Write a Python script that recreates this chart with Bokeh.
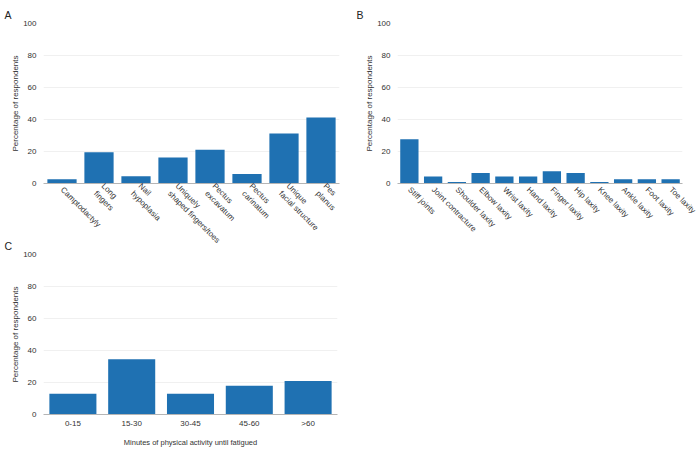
import math
from bokeh.plotting import figure
from bokeh.layouts import column, row
from bokeh.models import Range1d, FixedTicker
from bokeh.embed import file_html
from bokeh.resources import INLINE

# Panel A
cats_a = ["Camptodactyly", "Long\nfingers", "Nail\nhypoplasia", "Uniquely\nshaped fingers/toes",
          "Pectus\nexcavatum", "Pectus\ncarinatum", "Unique\nfacial structure", "Pes\nplanus"]
vals_a = [2.7, 19.5, 4.5, 16.2, 21.1, 6.0, 31.2, 41.2]

# Panel B
cats_b = ["Stiff joints", "Joint contracture", "Shoulder laxity", "Elbow laxity", "Wrist laxity",
          "Hand laxity", "Finger laxity", "Hip laxity", "Knee laxity", "Ankle laxity",
          "Foot laxity", "Toe laxity"]
vals_b = [27.6, 4.3, 1.0, 6.5, 4.3, 4.3, 7.6, 6.5, 1.0, 2.7, 2.7, 2.7]

# Panel C
cats_c = ["0-15", "15-30", "30-45", "45-60", ">60"]
vals_c = [12.9, 34.6, 12.9, 17.9, 21.0]

y_ticks = [0, 20, 40, 60, 80, 100]
grid_ticks = [20, 40, 60, 80]
y_label = "Percentage of respondents"
c_xlabel = "Minutes of physical activity until fatigued"

BAR = "#1f71b2"
FONT = "Liberation Sans"
TXT = "#333333"


def make(cats, vals, letter, width, height, bl, br, bt, bb, bar_w, title_off,
         xlabel=None, rotate=True):
    p = figure(x_range=cats, y_range=Range1d(0, 100), width=width, height=height,
               output_backend="svg", toolbar_location=None,
               min_border_left=bl, min_border_right=br, min_border_top=bt, min_border_bottom=bb)
    p.vbar(x=cats, top=vals, width=bar_w, color=BAR, line_color=None)
    p.title.text = letter
    p.title.text_font = FONT
    p.title.text_font_size = "10.5px"
    p.title.text_font_style = "normal"
    p.title.text_color = "#222222"
    p.title.standoff = 6
    p.title.offset = title_off
    p.outline_line_color = None
    p.xgrid.grid_line_color = None
    p.ygrid.grid_line_color = "#f0f0f0"
    p.ygrid.ticker = FixedTicker(ticks=grid_ticks)
    p.yaxis.ticker = FixedTicker(ticks=y_ticks)
    p.yaxis.axis_line_color = None
    p.yaxis.major_tick_line_color = None
    p.yaxis.minor_tick_line_color = None
    p.yaxis.major_tick_out = 0
    p.yaxis.major_tick_in = 0
    p.yaxis.minor_tick_out = 0
    p.yaxis.axis_label = y_label
    p.yaxis.axis_label_text_font = FONT
    p.yaxis.axis_label_text_font_size = "8px"
    p.yaxis.axis_label_text_font_style = "normal"
    p.yaxis.axis_label_text_color = TXT
    p.yaxis.axis_label_standoff = 0
    p.yaxis.major_label_text_font = FONT
    p.yaxis.major_label_text_font_size = "8px"
    p.yaxis.major_label_text_color = TXT
    p.yaxis.major_label_standoff = 7
    p.xaxis.axis_line_color = "#b5b5b5"
    p.xaxis.major_tick_line_color = None
    p.xaxis.minor_tick_line_color = None
    p.xaxis.major_tick_out = 0
    p.xaxis.major_tick_in = 0
    p.xaxis.minor_tick_out = 0
    p.xaxis.major_label_text_font = FONT
    p.xaxis.major_label_text_font_size = "8px"
    p.xaxis.major_label_text_color = TXT
    p.xaxis.major_label_standoff = 5
    if rotate:
        p.xaxis.major_label_orientation = -math.pi / 4
    if xlabel:
        p.xaxis.axis_label = xlabel
        p.xaxis.axis_label_text_font = FONT
        p.xaxis.axis_label_text_font_size = "7.5px"
        p.xaxis.axis_label_text_font_style = "normal"
        p.xaxis.axis_label_text_color = TXT
        p.xaxis.axis_label_standoff = 7
        p.xaxis.major_label_standoff = 4
    p.x_range.range_padding = 0
    return p


pa = make(cats_a, vals_a, "A", 350, 260, 43, 11, 23, 77, 0.79, -39)
pb = make(cats_b, vals_b, "B", 350, 260, 47, 18, 23, 77, 0.77, -41)
pc = make(cats_c, vals_c, "C", 350, 215, 43, 13, 20, 35, 0.8, -39,
          xlabel=c_xlabel, rotate=False)
pc.title.standoff = 5
pc.border_fill_alpha = 0
pc.background_fill_alpha = 0
pc.margin = (-26, 0, 0, 0)

layout = column(row(pa, pb), pc)
open("out.html", "w").write(file_html(layout, INLINE))
